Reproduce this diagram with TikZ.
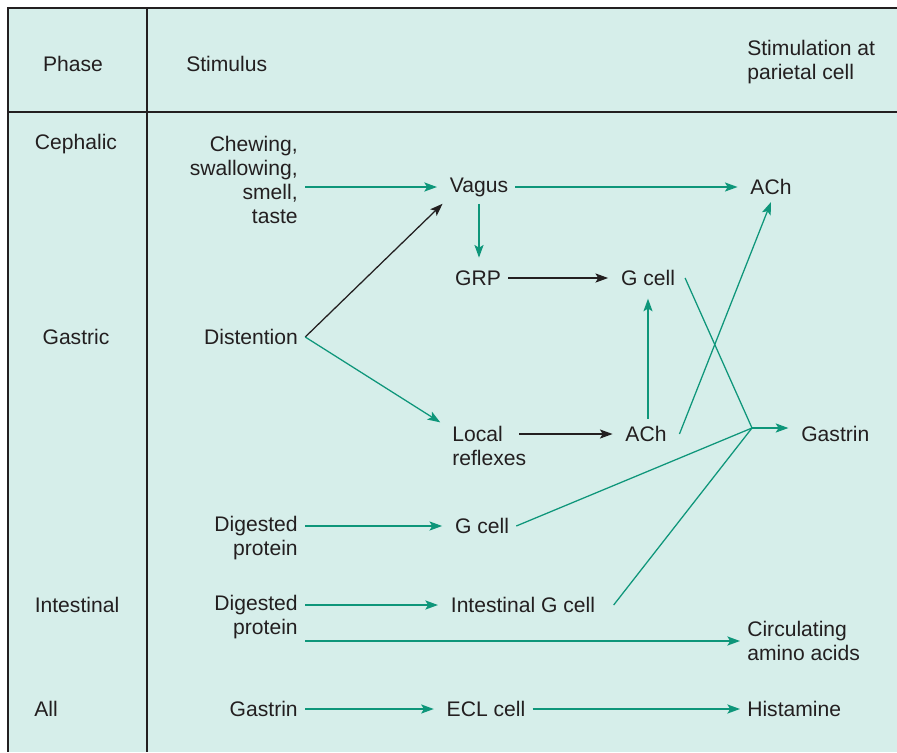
\documentclass[tikz,border=0pt]{standalone}
\usepackage{fontspec}
\setmainfont{Liberation Sans}
\usetikzlibrary{arrows.meta,calc}
\definecolor{bgteal}{HTML}{D6EEEA}
\definecolor{arrteal}{RGB}{14,150,122}
\definecolor{inkdark}{HTML}{231F20}

\begin{document}
\begin{tikzpicture}[x=0.025cm, y=-0.025cm,
    font=\fontsize{15}{17}\selectfont, text=inkdark,
    every node/.style={inner sep=5pt},
    lbl/.style={align=center},
    stim/.style={anchor=east, align=right},
    tgt/.style={anchor=west, align=left},
    tarr/.style={-{Stealth[length=9pt, width=6.5pt, inset=2pt]}, line width=0.9pt,
                 arrteal, shorten >=4pt},
    karr/.style={-{Stealth[length=9pt, width=6.5pt, inset=2pt]}, line width=0.9pt,
                 inkdark, shorten >=4pt},
    tline/.style={line width=0.9pt, arrteal},
    rule/.style={line width=1pt, inkdark}]

  %% Table frame
  \useasboundingbox (0,0) rectangle (897,752);
  \fill[bgteal] (8,8) rectangle (897,752);
  \draw[rule] (897,8) -- (8,8) -- (8,752);
  \draw[rule] (8,112) -- (897,112);
  \draw[rule] (147,8) -- (147,752);

  %% Header row
  \node[lbl]  (hphase) at (73,64)  {Phase};
  \node[tgt]  (hstim)  at (179,64) {Stimulus};
  \node[tgt]  (hpar)   at (740,62) {Stimulation at\\parietal cell};

  %% Phase column
  \node[lbl]  (ceph)   at (76,144) {Cephalic};
  \node[lbl]  (gastr)  at (76,337) {Gastric};
  \node[lbl]  (intes)  at (77,605) {Intestinal};
  \node[lbl]  (allph)  at (46,709) {All};

  %% Stimuli
  \node[stim] (chew)   at (305,180) {Chewing,\\swallowing,\\smell,\\taste};
  \node[lbl]  (dist)   at (251,337) {Distention};
  \node[stim] (dprotA) at (305,538) {Digested\\protein};
  \node[stim] (dprotB) at (305,617) {Digested\\protein};
  \node[stim] (gasin)  at (305,709) {Gastrin};

  %% Intermediate steps
  \node[lbl]  (vagus)  at (479,187) {Vagus};
  \node[lbl]  (grp)    at (478,278) {GRP};
  \node[lbl]  (gcA)    at (648,278) {G cell};
  \node[tgt]  (local)  at (445,446) {Local\\reflexes};
  \node[lbl]  (achB)   at (646,434) {ACh};
  \node[lbl]  (gcB)    at (482,526) {G cell};
  \node[lbl]  (igc)    at (523,605) {Intestinal G cell};
  \node[lbl]  (ecl)    at (486,709) {ECL cell};

  %% Parietal cell stimulation
  \node[lbl]  (achA)   at (771,187) {ACh};
  \coordinate (join)   at (752,428);
  \node[tgt]  (gasout) at (794,434) {Gastrin};
  \node[tgt]  (circ)   at (740,641) {Circulating\\amino acids};
  \node[tgt]  (hist)   at (740,709) {Histamine};

  %% Cephalic and gastric pathways
  \draw[tarr] (chew.east |- vagus.west) -- (vagus.west);
  \draw[tarr] (vagus.east) -- (achA.west);
  \draw[tarr] (vagus.south) -- (vagus.south |- grp.north);
  \draw[karr] (grp.east) -- (gcA.west);
  \draw[karr, shorten >=0pt] (dist.east) -- (vagus.south west);
  \draw[tarr] (dist.east) -- (local.155);
  \draw[karr, shorten <=-10pt] (local.east |- achB.west) -- (achB.west);
  \draw[tarr] (gcA.south |- achB.north) -- (gcA.south);
  \draw[tarr, shorten >=0pt] ([xshift=4pt]achB.east) -- (achA.south);
  \draw[tline] ([xshift=2pt]gcA.east) -- (join);
  \draw[tarr] (join) -- (join -| gasout.west);

  %% Protein pathways
  \draw[tarr] (dprotA.east |- gcB.west) -- (gcB.west);
  \draw[tline] (gcB.east) -- (join);
  \draw[tarr] (dprotB.east |- igc.west) -- (igc.west);
  \draw[tline] ([xshift=8pt]igc.east) -- (join);
  \draw[tarr, shorten >=0pt] (dprotB.east |- circ.west) -- (circ.west);

  %% Histamine
  \draw[tarr] (gasin.east) -- (ecl.west);
  \draw[tarr, shorten >=0pt] (ecl.east) -- (hist.west);
\end{tikzpicture}
\end{document}
